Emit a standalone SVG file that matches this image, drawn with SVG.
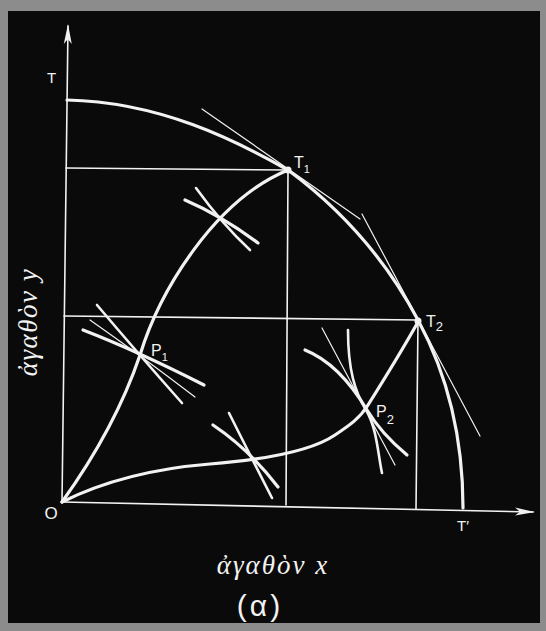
<svg xmlns="http://www.w3.org/2000/svg" width="546" height="631" viewBox="0 0 546 631">
<style>
.ln{fill:none;stroke:#f2f2f2;stroke-linecap:round}
.thick{stroke-width:3.2}
.mid{stroke-width:2.6}
.thin{stroke-width:1.6}
.hair{stroke-width:1.2}
.lbl{fill:#f2f2f2;font-family:"Liberation Sans",Arial,sans-serif}
.gr{fill:#f2f2f2;font-family:"Liberation Serif","DejaVu Serif",serif;font-style:italic}
</style>
<defs>
<marker id="arr" viewBox="0 0 20 10" refX="18" refY="5" markerWidth="20" markerHeight="10" markerUnits="userSpaceOnUse" orient="auto">
<path d="M0,1 L20,5 L0,9 L5,5 Z" fill="#f2f2f2"/>
</marker>
</defs>
<rect x="0" y="0" width="546" height="631" fill="#8c8c8c"/>
<rect x="8" y="11" width="532" height="612" fill="#0a0a0a"/>
<g id="connectors">
<g id="axes">
<path class="ln thin" d="M62,502 L68,26" marker-end="url(#arr)"/>
<path class="ln thin" d="M62,502 L533,512" marker-end="url(#arr)"/>
</g>
<g id="grid">
<path class="ln thin" d="M66,168 L288,170"/>
<path class="ln thin" d="M288,170 L286,505"/>
<path class="ln thin" d="M64,316 L418,320"/>
<path class="ln thin" d="M418,320 L416,509"/>
</g>
<g id="frontier">
<path class="ln thick" d="M67,100 C160,102 235,140 288,170 C338,207 383,254 418,320 C445,370 463,430 463,508"/>
</g>
<g id="tangents">
<path class="ln hair" d="M202,109 L360,219"/>
<path class="ln hair" d="M362,214 L480,436"/>
</g>
<g id="contract-upper">
<path class="ln thick" d="M62,502 C85,470 118,420 140,355 C160,290 215,200 288,170"/>
</g>
<g id="contract-lower">
<path class="ln thick" d="M62,502 C110,478 160,468 210,464 C260,460 310,452 335,435 C350,425 360,418 368,405 C385,378 405,345 418,322"/>
</g>
<g id="indifference">
<path class="ln thick" d="M185,200 Q222,216 258,243"/>
<path class="ln mid" d="M196,188 Q222,224 250,250"/>
<path class="ln thick" d="M83,330 Q135,350 204,385"/>
<path class="ln mid" d="M97,305 Q135,350 182,403"/>
<path class="ln hair" d="M90,320 Q140,355 195,397"/>
<path class="ln thick" d="M213,425 Q250,450 278,487"/>
<path class="ln mid" d="M229,413 Q250,455 272,498"/>
<path class="ln thick" d="M305,350 C335,362 355,390 367,410 S395,445 407,455"/>
<path class="ln hair" d="M322,328 L395,465"/>
<path class="ln mid" d="M348,330 C348,370 355,392 366,410 S378,455 382,473"/>
</g>
</g>
<g id="node-T"><text class="lbl" x="47" y="83" font-size="15">T</text></g>
<g id="node-O"><text class="lbl" x="51" y="519" font-size="17" text-anchor="middle">O</text></g>
<g id="node-Tprime"><text class="lbl" x="457" y="531" font-size="15">T′</text></g>
<g id="node-T1"><circle cx="288" cy="170" r="3.5" fill="#f2f2f2"/><text class="lbl" x="294" y="168" font-size="16">T<tspan font-size="11" dy="5">1</tspan></text></g>
<g id="node-T2"><circle cx="418" cy="321" r="3.5" fill="#f2f2f2"/><text class="lbl" x="426" y="327" font-size="16">T<tspan font-size="13" dy="4">2</tspan></text></g>
<g id="node-P1"><text class="lbl" x="151" y="356" font-size="16">P<tspan font-size="11" dy="5">1</tspan></text></g>
<g id="node-P2"><text class="lbl" x="376" y="417" font-size="16">P<tspan font-size="13" dy="7">2</tspan></text></g>
<g id="label-y"><text class="gr" font-size="27" letter-spacing="1.5" text-anchor="middle" transform="translate(37,322) rotate(-90)">ἀγαθὸν y</text></g>
<g id="label-x"><text class="gr" x="273" y="574" font-size="27" letter-spacing="2" text-anchor="middle">ἀγαθὸν x</text></g>
<g id="caption"><text class="lbl" x="260" y="616" font-size="30" text-anchor="middle" letter-spacing="3">(α)</text></g>
</svg>
